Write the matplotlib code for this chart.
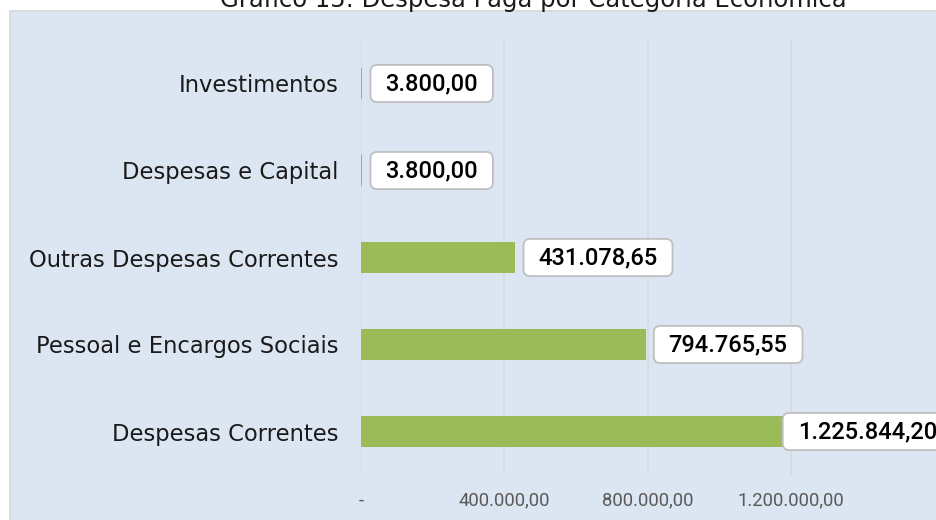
import matplotlib
matplotlib.use("Agg")
import matplotlib.pyplot as plt
from matplotlib.path import Path
from matplotlib.patches import Rectangle
from matplotlib.ticker import FixedLocator, FixedFormatter

# ---- data ----
categories = ["Investimentos", "Despesas e Capital", "Outras Despesas Correntes",
              "Pessoal e Encargos Sociais", "Despesas Correntes"]
values = [3800.00, 3800.00, 431078.65, 794765.55, 1225844.20]
value_labels = ["3.800,00", "3.800,00", "431.078,65", "794.765,55", "1.225.844,20"]
tick_values = [0, 400000, 800000, 1200000]
tick_labels = ["-", "400.000,00", "800.000,00", "1.200.000,00"]
title = "Gráfico 15: Despesa Paga por Categoria Econômica"

W, H, DPI = 937, 520, 100
fig = plt.figure(figsize=(W / DPI, H / DPI), dpi=DPI)
fig.patch.set_facecolor("white")

# chart panel background
panel = Rectangle((10 / W, 1 - 11 / H), 1.0, -1.2, transform=fig.transFigure,
                  facecolor="#DCE6F2", edgecolor="#D9D9D9", linewidth=1.3, zorder=-10)
fig.patches.append(panel)

fig.text(533 / W, 1 - 7 / H, title, ha="center", va="baseline",
         fontsize=17.5, color="#1a1a1a", family="DejaVu Sans")

# axes: zero at x=361px, 400k per 143.25px
x0_px, x1_px = 361, 937
ax_left = x0_px / W
ax_right = x1_px / W
ax_bottom = (H - 475) / H
ax_top = (H - 40) / H
ax = fig.add_axes([ax_left, ax_bottom, ax_right - ax_left, ax_top - ax_bottom])
ax.set_facecolor("none")
px_per_unit = 143.25 / 400000
ax.set_xlim(0, (x1_px - x0_px) / px_per_unit)

ypos = list(range(len(categories)))
ax.barh(ypos, values, height=0.35, color="#9BBB59", zorder=3)
ax.set_ylim(len(categories) - 0.5, -0.5)

for s in ax.spines.values():
    s.set_visible(False)

ax.xaxis.set_major_locator(FixedLocator(tick_values))
ax.xaxis.set_major_formatter(FixedFormatter(tick_labels))
ax.grid(axis="x", color="#D9D9D9", linewidth=1.3, zorder=1)
ax.set_axisbelow(True)
ax.tick_params(axis="x", length=0, pad=12, labelsize=13.3, labelcolor="#595959")
for t in ax.get_xticklabels():
    t.set_family("Roboto")

ax.set_yticks(ypos)
ax.set_yticklabels(categories)
ax.tick_params(axis="y", length=0, pad=16, labelsize=16.3, labelcolor="#1a1a1a")
for t in ax.get_yticklabels():
    t.set_family("DejaVu Sans")


def rbox(x0, y0, width, height, mutation_size):
    px = 0.63 * mutation_size
    py = 0.30 * mutation_size
    r = 0.28 * mutation_size
    x0 -= px
    y0 -= py
    x1 = x0 + width + 2 * px
    y1 = y0 + height + 2 * py
    verts = [(x0 + r, y0), (x1 - r, y0), (x1, y0), (x1, y0 + r), (x1, y1 - r),
             (x1, y1), (x1 - r, y1), (x0 + r, y1), (x0, y1), (x0, y1 - r),
             (x0, y0 + r), (x0, y0), (x0 + r, y0), (x0 + r, y0)]
    codes = [Path.MOVETO, Path.LINETO, Path.CURVE3, Path.CURVE3, Path.LINETO,
             Path.CURVE3, Path.CURVE3, Path.LINETO, Path.CURVE3, Path.CURVE3,
             Path.LINETO, Path.CURVE3, Path.CURVE3, Path.CLOSEPOLY]
    return Path(verts, codes)


label_cap = 1155000  # labels shifted left to stay inside chart area
for y, v, lab in zip(ypos, values, value_labels):
    ax.annotate(lab, xy=(min(v, label_cap), y), xytext=(23, 0),
                textcoords="offset pixels", ha="left", va="center",
                fontsize=17, fontweight="medium", family="Roboto", color="#000000",
                annotation_clip=False, zorder=5,
                bbox=dict(boxstyle=rbox, facecolor="white", edgecolor="#BFBFBF",
                          linewidth=1.3))

fig.savefig("out.png", dpi=DPI)
